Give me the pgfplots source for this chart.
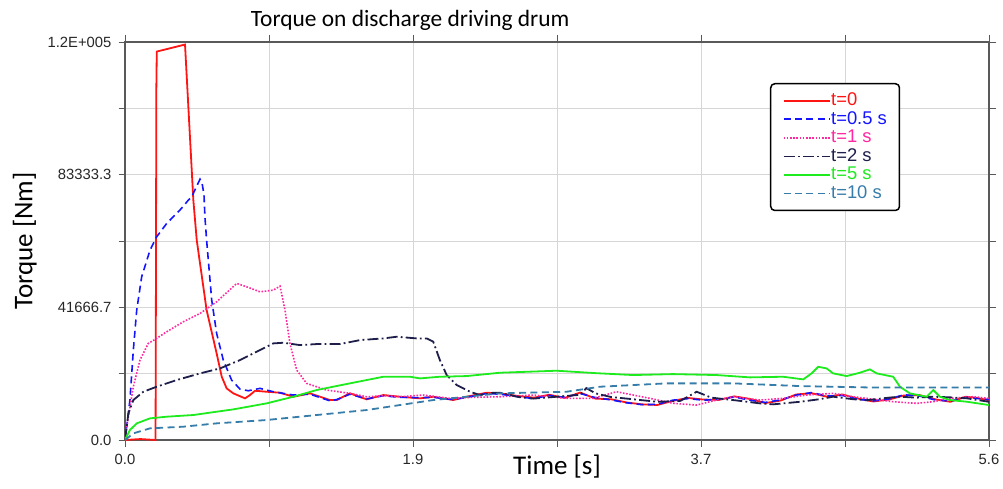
\documentclass[border=0pt]{standalone}
\usepackage{pgfplots}
\pgfplotsset{compat=1.18}
\usepackage{fontspec}
\setmainfont{Liberation Sans}
\newfontfamily\calfont{Carlito}

\definecolor{cRed}{RGB}{255,20,20}
\definecolor{cBlue}{RGB}{20,20,255}
\definecolor{cPink}{RGB}{255,40,160}
\definecolor{cNavy}{RGB}{30,30,75}
\definecolor{cGreen}{RGB}{30,235,30}
\definecolor{cTeal}{RGB}{55,125,170}

\begin{document}
\begin{tikzpicture}
\begin{axis}[
    name=ax,
    scale only axis,
    width=432pt, height=199pt,
    xmin=0, xmax=5.6,
    ymin=0, ymax=125000,
    xtick={0,0.93333,1.86667,2.8,3.73333,4.66667,5.6},
    xticklabels={0.0,,1.9,,3.7,,5.6},
    ytick={0,20833.33,41666.67,62500,83333.33,104166.67,125000},
    yticklabels={0.0,,41666.7,,83333.3,,1.2E+005},
    scaled y ticks=false,
    grid=major,
    grid style={draw=gray!32, line width=0.5pt},
    axis line style={draw=gray!70!black, line width=0.6pt},
    tick style={draw=gray!70!black, line width=0.5pt},
    tick align=outside,
    major tick length=3.25pt,
    tick label style={font=\fontsize{7.4}{8}\selectfont, text=black!85},
    xticklabel style={yshift=-0.5pt},
    title={Torque on discharge driving drum},
    title style={at={(0.33,1.055)}, anchor=center, yshift=-6pt, font=\calfont\fontsize{11.7}{14}\selectfont},
    xlabel={Time [s]},
    xlabel style={at={(rel axis cs:0.5,-0.068)}, anchor=center, font=\calfont\fontsize{13.5}{15}\selectfont},
    ylabel={Torque [Nm]},
    ylabel style={at={(rel axis cs:-0.116,0.5)}, anchor=center, font=\calfont\fontsize{13.5}{15}\selectfont},
    legend style={at={(0.7465,0.897)}, anchor=north west, draw=black, line width=0.75pt,
        rounded corners=2pt, fill=white, font=\fontsize{9.2}{10}\selectfont,
        row sep=-2.6pt, inner xsep=6pt, inner ysep=2.5pt, cells={anchor=west},
        nodes={inner xsep=0.3pt}},
    legend image code/.code={\draw[#1, line width=0.9pt, rounded corners=0pt] (0pt,0pt) -- (23pt,0pt);},
]

% t=0
\addplot[cRed, line width=0.9pt] coordinates {
(0,0)(0.10,300)(0.198,0)(0.201,60000)(0.203,110000)(0.206,122000)(0.389,124200)
(0.443,75300)(0.465,62760)(0.529,40800)(0.594,27200)(0.627,19870)(0.659,16200)
(0.702,14650)(0.778,13080)(0.810,14120)(0.843,15470)(0.918,15160)(1.005,14850)
(1.091,13590)(1.199,14650)(1.329,12550)(1.372,12550)(1.458,14650)(1.566,12770)
(1.674,14120)(1.782,13590)(1.912,13080)(1.998,13590)(2.128,12550)(2.214,13590)
(2.344,14850)(2.43,14650)(2.55,13800)(2.65,13300)(2.75,14200)(2.85,13200)
(2.95,14900)(3.05,13000)(3.15,12800)(3.25,11800)(3.35,11200)(3.45,11000)
(3.55,12300)(3.65,13200)(3.75,12700)(3.85,12600)(3.95,13700)(4.05,12900)
(4.15,11600)(4.25,12400)(4.35,14300)(4.45,14700)(4.55,13600)(4.65,14300)
(4.75,13000)(4.85,12100)(4.95,12700)(5.05,14000)(5.15,14100)(5.25,12800)
(5.35,12000)(5.45,13600)(5.52,13200)(5.6,12500)
};
\addlegendentry{\textcolor{cRed}{t=0}}

% t=0.5 s
\addplot[cBlue, line width=0.8pt, dash pattern=on 3.5pt off 2.2pt] coordinates {
(0,0)(0.032,12550)(0.054,28240)(0.076,40800)(0.108,51250)(0.162,59600)
(0.205,63800)(0.270,68000)(0.356,72200)(0.410,75300)(0.432,76350)(0.486,81900)
(0.500,80500)(0.512,77000)(0.518,70070)(0.529,62760)(0.562,43930)(0.594,33480)
(0.637,25100)(0.691,18830)(0.745,16000)(0.799,15470)(0.875,16220)(0.961,15160)
(1.091,14120)(1.199,14400)(1.329,12300)(1.372,12700)(1.458,14400)(1.566,12900)
(1.674,13900)(1.782,13400)(1.912,13300)(1.998,13400)(2.128,12700)(2.214,13400)
(2.344,14600)(2.43,14400)(2.55,13600)(2.65,13000)(2.75,14000)(2.85,13400)
(2.95,14600)(3.05,13300)(3.15,12600)(3.25,11700)(3.35,11100)(3.45,11200)
(3.55,12500)(3.65,13000)(3.75,12500)(3.85,12800)(3.95,13500)(4.05,12500)
(4.15,11800)(4.25,12600)(4.35,14100)(4.45,14900)(4.55,13800)(4.65,14000)
(4.75,12800)(4.85,12300)(4.95,12900)(5.05,14200)(5.15,13800)(5.25,12600)
(5.35,12200)(5.45,13400)(5.6,12700)
};
\addlegendentry{\textcolor{cBlue}{t=0.5 s}}

% t=1 s
\addplot[cPink, line width=0.8pt, dash pattern=on 0.8pt off 0.8pt] coordinates {
(0,0)(0.022,7320)(0.054,16730)(0.097,25100)(0.151,30340)(0.205,31910)
(0.270,33990)(0.378,37130)(0.486,39750)(0.594,43410)(0.724,49170)(0.789,48110)
(0.875,46540)(0.961,47070)(1.005,48320)(1.037,40800)(1.069,30340)(1.113,21970)
(1.177,17790)(1.307,15690)(1.458,14650)(1.566,13590)(1.674,13900)(1.782,13590)
(1.933,14120)(2.106,13080)(2.25,13400)(2.43,13590)(2.646,14120)(2.862,13080)
(3.035,13080)(3.186,15160)(3.294,14120)(3.402,13080)(3.553,11510)(3.705,10980)
(3.834,12550)(3.942,13590)(4.115,12550)(4.266,13080)(4.417,14120)(4.590,14650)
(4.720,13590)(4.807,13080)(4.979,12030)(5.131,11510)(5.239,12030)(5.347,13080)
(5.498,13590)(5.6,13080)
};
\addlegendentry{\textcolor{cPink}{t=1 s}}

% t=2 s
\addplot[cNavy, line width=0.9pt, dash pattern=on 5.5pt off 1.6pt on 0.9pt off 1.6pt] coordinates {
(0,0)(0.022,8370)(0.054,12550)(0.119,15160)(0.205,16730)(0.335,18830)
(0.486,20920)(0.616,22490)(0.745,25100)(0.875,28240)(0.961,30340)(1.026,30550)
(1.134,29810)(1.242,30130)(1.393,30130)(1.523,31380)(1.674,31910)(1.761,32430)
(1.890,31910)(1.955,31910)(1.998,30860)(2.041,25100)(2.085,20400)(2.150,17260)
(2.236,15160)(2.301,14120)(2.387,14850)(2.43,14850)(2.55,13500)(2.646,13000)
(2.80,13600)(2.95,14200)(2.99,16300)(3.05,14650)(3.15,13500)(3.294,12800)
(3.45,12000)(3.60,12300)(3.705,15160)(3.80,13300)(3.95,12500)(4.115,11500)
(4.20,11200)(4.374,12000)(4.50,12800)(4.59,13600)(4.72,12800)(4.807,12500)
(4.95,13300)(5.02,13600)(5.131,13300)(5.239,13600)(5.347,13400)(5.455,13100)
(5.6,12000)
};
\addlegendentry{\textcolor{cNavy}{t=2 s}}

% t=5 s
\addplot[cGreen, line width=0.9pt] coordinates {
(0,0)(0.032,3140)(0.076,5230)(0.162,6800)(0.270,7320)(0.443,7850)(0.594,8890)
(0.702,9620)(0.918,11510)(1.091,13590)(1.242,15690)(1.458,17790)(1.674,19870)
(1.847,19870)(1.912,19350)(2.041,19870)(2.214,20080)(2.430,21130)(2.798,21760)
(3.050,21000)(3.294,20400)(3.55,20700)(3.835,20400)(4.050,19670)(4.266,19870)
(4.396,19040)(4.450,20920)(4.493,23000)(4.547,22490)(4.590,20920)(4.677,20080)
(4.763,21130)(4.828,22180)(4.872,20920)(4.979,19870)(5.023,16730)(5.087,14650)
(5.196,13590)(5.239,15690)(5.282,13590)(5.347,12550)(5.455,12030)(5.6,10980)
};
\addlegendentry{\textcolor{cGreen}{t=5 s}}

% t=10 s
\addplot[cTeal, line width=0.9pt, dash pattern=on 3.5pt off 2.2pt] coordinates {
(0,0)(0.054,2090)(0.162,3660)(0.378,4180)(0.594,5230)(0.918,6280)(1.242,7850)
(1.566,9410)(1.782,10980)(1.998,12550)(2.214,13590)(2.430,14650)(2.862,15160)
(3.078,16730)(3.510,17790)(3.942,17790)(4.374,16940)(4.807,16520)(5.239,16520)
(5.6,16520)
};
\addlegendentry{\textcolor{cTeal}{t=10 s}}

\end{axis}
\pgfresetboundingbox
\path[use as bounding box] ([xshift=-62.5pt,yshift=-24pt]ax.south west) rectangle ([xshift=7pt,yshift=21pt]ax.north east);
\end{tikzpicture}
\end{document}
